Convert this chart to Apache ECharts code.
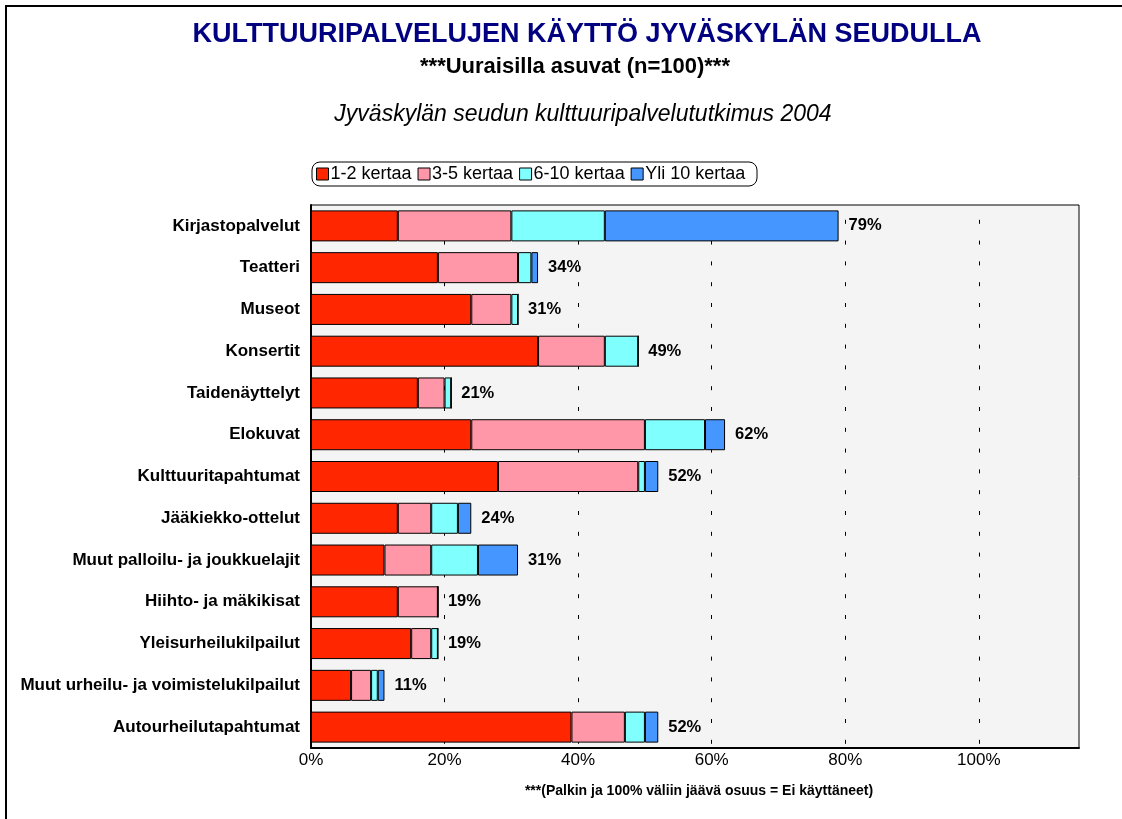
<!DOCTYPE html>
<html>
<head>
<meta charset="utf-8">
<script src="https://cdn.jsdelivr.net/npm/echarts@6/dist/echarts.min.js"></script>
<style>
  html, body { margin: 0; padding: 0; background: #fff; }
  #chart { width: 1122px; height: 819px; }
</style>
</head>
<body>
<div id="chart"></div>
<script>
// categories (top to bottom)
const categories = [
  'Kirjastopalvelut', 'Teatteri', 'Museot', 'Konsertit', 'Taidenäyttelyt',
  'Elokuvat', 'Kulttuuritapahtumat', 'Jääkiekko-ottelut',
  'Muut palloilu- ja joukkuelajit', 'Hiihto- ja mäkikisat',
  'Yleisurheilukilpailut', 'Muut urheilu- ja voimistelukilpailut',
  'Autourheilutapahtumat'
];
// share of respondents (%) per frequency class
const kerta1_2 = [13, 19, 24, 34, 16, 24, 28, 13, 11, 13, 15, 6, 39];
const kerta3_5 = [17, 12, 6, 10, 4, 26, 21, 5, 7, 6, 3, 3, 8];
const kerta6_10 = [14, 2, 1, 5, 1, 9, 1, 4, 7, 0, 1, 1, 3];
const yli10 = [35, 1, 0, 0, 0, 3, 2, 2, 6, 0, 0, 1, 2];
const seriesNames = ['1-2 kertaa', '3-5 kertaa', '6-10 kertaa', 'Yli 10 kertaa'];
const xTicks = [0, 20, 40, 60, 80, 100];

const colors = ['#ff2600', '#ff97a8', '#80ffff', '#4696ff'];
const totals = categories.map((c, i) => kerta1_2[i] + kerta3_5[i] + kerta6_10[i] + yli10[i]);
const FONT = '"Liberation Sans", Arial';

const chart = echarts.init(document.getElementById('chart'));

const seriesData = [kerta1_2, kerta3_5, kerta6_10, yli10];
const series = seriesData.map((d, i) => ({
  name: seriesNames[i],
  type: 'bar',
  stack: 'kaytto',
  data: d,
  barWidth: 31,
  itemStyle: { color: colors[i], borderColor: '#000', borderWidth: 1 },
  emphasis: { disabled: true },
  z: 3
}));
// summa-etiketit palkin perään
series.push({
  name: 'yht',
  type: 'bar',
  data: totals,
  barWidth: 31,
  barGap: '-100%',
  itemStyle: { color: 'transparent' },
  label: {
    show: true,
    position: 'right',
    distance: 10,
    formatter: p => p.value + '%',
    fontFamily: FONT,
    fontWeight: 'bold',
    fontSize: 16.5,
    color: '#000'
  },
  silent: true,
  z: 1
});

const option = {
  backgroundColor: '#fff',
  animation: false,
  graphic: [
    {
      type: 'rect',
      shape: { x: 6, y: 6, width: 1300, height: 1000 },
      style: { fill: 'none', stroke: '#000', lineWidth: 2 },
      silent: true
    },
    {
      type: 'text', x: 587, y: 35,
      style: {
        text: 'KULTTUURIPALVELUJEN KÄYTTÖ JYVÄSKYLÄN SEUDULLA',
        fill: '#000080', font: 'bold 27px ' + FONT,
        textAlign: 'center', textVerticalAlign: 'middle'
      }
    },
    {
      type: 'text', x: 575, y: 67,
      style: {
        text: '***Uuraisilla asuvat (n=100)***',
        fill: '#000', font: 'bold 22px ' + FONT,
        textAlign: 'center', textVerticalAlign: 'middle'
      }
    },
    {
      type: 'text', x: 583, y: 115,
      style: {
        text: 'Jyväskylän seudun kulttuuripalvelututkimus 2004',
        fill: '#000', font: 'italic 23px ' + FONT,
        textAlign: 'center', textVerticalAlign: 'middle'
      }
    },
    {
      type: 'rect',
      shape: { x: 312, y: 162, width: 445, height: 24, r: 8 },
      style: { fill: '#fff', stroke: '#000', lineWidth: 1 },
      z: -1
    },
    {
      type: 'text', x: 699, y: 791,
      style: {
        text: '***(Palkin ja 100% väliin jäävä osuus = Ei käyttäneet)',
        fill: '#000', font: 'bold 14px ' + FONT,
        textAlign: 'center', textVerticalAlign: 'middle'
      }
    }
  ],
  legend: {
    data: seriesNames,
    left: 316,
    top: 165,
    itemWidth: 12,
    itemHeight: 12,
    itemGap: 6,
    icon: 'rect',
    selectedMode: false,
    padding: 0,
    textStyle: { fontFamily: FONT, fontSize: 18, color: '#000', padding: [0, 0, 0, -3] },
    itemStyle: { borderColor: '#000', borderWidth: 1 }
  },
  grid: {
    left: 311,
    top: 205,
    right: 43,
    bottom: 71,
    show: true,
    backgroundColor: '#f4f4f4',
    borderColor: '#000',
    borderWidth: 1
  },
  xAxis: {
    type: 'value',
    min: 0,
    max: 115,
    interval: 20,
    axisLine: { show: true, lineStyle: { color: '#000', width: 2 } },
    axisTick: { show: false },
    axisLabel: {
      showMaxLabel: false,
      formatter: v => (xTicks.indexOf(v) >= 0 ? v + '%' : ''),
      fontFamily: FONT,
      fontSize: 17,
      color: '#000',
      margin: 4
    },
    splitLine: {
      show: true,
      showMaxLine: false,
      lineStyle: { color: '#000', type: [4, 16.8], dashOffset: 6, width: 1 }
    }
  },
  yAxis: {
    type: 'category',
    data: categories,
    inverse: true,
    axisLine: { show: true, lineStyle: { color: '#000', width: 2 } },
    axisTick: { show: false },
    axisLabel: {
      fontFamily: FONT,
      fontWeight: 'bold',
      fontSize: 17,
      color: '#000',
      margin: 11
    }
  },
  series: series
};

chart.setOption(option);
</script>
</body>
</html>
